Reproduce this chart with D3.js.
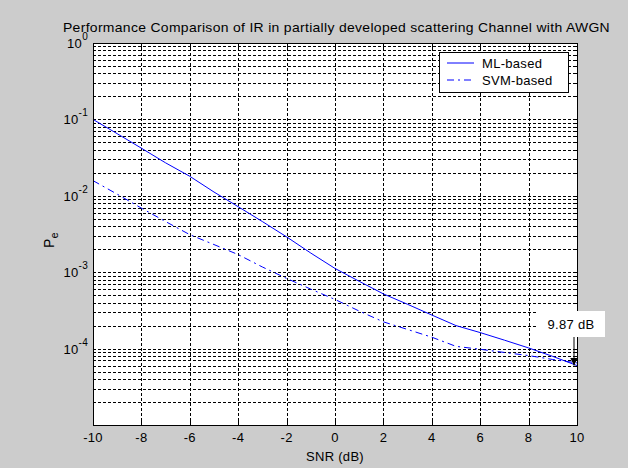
<!DOCTYPE html>
<html>
<head>
<meta charset="utf-8">
<script src="https://cdn.jsdelivr.net/npm/d3@7"></script>
<style>
  body { margin: 0; background: #cccccc; }
  text { font-family: "Liberation Sans", Arial, sans-serif; font-size: 13px; fill: #000; letter-spacing: 0.3px; }
</style>
</head>
<body>
<svg width="628" height="468"></svg>
<script>
const svg = d3.select('svg');
const width = +svg.attr('width');
const height = +svg.attr('height');

// data
const snr = [-10, -9, -8, -7, -6, -5, -4, -3, -2, -1, 0, 1, 2, 3, 4, 5, 6, 7, 8, 9, 10];
const mlBased = [1.0e-1, 6.5e-2, 4.2e-2, 2.7e-2, 1.8e-2, 1.12e-2, 7.2e-3, 4.6e-3, 2.9e-3, 1.78e-3,
    1.12e-3, 7.6e-4, 5.2e-4, 3.8e-4, 2.75e-4, 2.0e-4, 1.62e-4, 1.29e-4, 1.02e-4, 7.9e-5, 6.0e-5];
const svmBased = [1.58e-2, 1.05e-2, 6.9e-3, 4.6e-3, 3.1e-3, 2.3e-3, 1.7e-3, 1.17e-3, 8.3e-4, 6.0e-4,
    4.4e-4, 3.1e-4, 2.24e-4, 1.78e-4, 1.41e-4, 1.07e-4, 9.8e-5, 8.9e-5, 8.1e-5, 7.2e-5, 6.5e-5];
const xTicks = [-10, -8, -6, -4, -2, 0, 2, 4, 6, 8, 10];
const yDecades = [0, -1, -2, -3, -4];
const seriesNames = ['ML-based', 'SVM-based'];
const annotationText = '9.87 dB';

const margin = {left: 93, right: 51, top: 43, bottom: 43};
const innerW = width - margin.left - margin.right;
const innerH = height - margin.top - margin.bottom;

svg.append('rect').attr('width', width).attr('height', height).attr('fill', '#cccccc');

const xScale = d3.scaleLinear().domain([-10, 10]).range([0, innerW]);
const yScale = d3.scaleLog().domain([1e-5, 1]).range([innerH, 0]);

const g = svg.append('g').attr('transform', `translate(${margin.left},${margin.top})`);
g.append('rect').attr('width', innerW).attr('height', innerH).attr('fill', '#fff');

// grid lines (major + minor on log axis)
const yGrid = [];
for (let e = -5; e < 0; e++) for (let m = 1; m < 10; m++) yGrid.push(m * Math.pow(10, e));
yGrid.push(1);

g.selectAll('.ygrid').data(yGrid).enter().append('line')
    .attr('x1', 0).attr('x2', innerW)
    .attr('y1', d => Math.round(yScale(d)) + 0.5).attr('y2', d => Math.round(yScale(d)) + 0.5)
    .attr('stroke', '#000').attr('stroke-width', 1).attr('stroke-dasharray', '3,2');

g.selectAll('.xgrid').data(xTicks).enter().append('line')
    .attr('x1', d => Math.round(xScale(d)) + 0.5).attr('x2', d => Math.round(xScale(d)) + 0.5)
    .attr('y1', 0).attr('y2', innerH)
    .attr('stroke', '#000').attr('stroke-width', 1).attr('stroke-dasharray', '3,2');

// ticks inside the box
g.selectAll('.xtb').data(xTicks).enter().append('line')
    .attr('x1', d => Math.round(xScale(d)) + 0.5).attr('x2', d => Math.round(xScale(d)) + 0.5)
    .attr('y1', innerH).attr('y2', innerH - 5).attr('stroke', '#000');
g.selectAll('.xtt').data(xTicks).enter().append('line')
    .attr('x1', d => Math.round(xScale(d)) + 0.5).attr('x2', d => Math.round(xScale(d)) + 0.5)
    .attr('y1', 0).attr('y2', 5).attr('stroke', '#000');
g.selectAll('.ytl').data(yGrid).enter().append('line')
    .attr('x1', 0).attr('x2', 3)
    .attr('y1', d => Math.round(yScale(d)) + 0.5).attr('y2', d => Math.round(yScale(d)) + 0.5)
    .attr('stroke', '#000');
g.selectAll('.ytr').data(yGrid).enter().append('line')
    .attr('x1', innerW).attr('x2', innerW - 3)
    .attr('y1', d => Math.round(yScale(d)) + 0.5).attr('y2', d => Math.round(yScale(d)) + 0.5)
    .attr('stroke', '#000');

// series
const line = d3.line().x((d, i) => xScale(snr[i])).y(d => yScale(d));
g.append('path').datum(mlBased).attr('d', line)
    .attr('fill', 'none').attr('stroke', '#0000ff').attr('stroke-width', 1);
g.append('path').datum(svmBased).attr('d', line)
    .attr('fill', 'none').attr('stroke', '#0000ff').attr('stroke-width', 1)
    .attr('stroke-dasharray', '7,4,2,4');

// box
g.append('rect').attr('x', 0.5).attr('y', 0.5).attr('width', innerW).attr('height', innerH)
    .attr('fill', 'none').attr('stroke', '#000');

// x tick labels
g.selectAll('.xlab').data(xTicks).enter().append('text')
    .attr('x', d => xScale(d)).attr('y', innerH + 17)
    .attr('text-anchor', 'middle').text(d => d);

// y tick labels 10^k
const yl = g.selectAll('.ylab').data(yDecades).enter().append('text')
    .attr('x', -5).attr('y', d => yScale(Math.pow(10, d)) + 5)
    .attr('text-anchor', 'end');
yl.append('tspan').text('10');
yl.append('tspan').attr('dy', -8).style('font-size', '10px').text(d => d);

// axis titles
svg.append('text').attr('x', margin.left + innerW / 2).attr('y', height - 7)
    .attr('text-anchor', 'middle').text('SNR (dB)');
const yt = svg.append('text').attr('transform', 'translate(54,240) rotate(-90)')
    .attr('text-anchor', 'middle');
yt.append('tspan').style('font-size', '14px').text('P');
yt.append('tspan').attr('dy', 4).style('font-size', '11px').text('e');

svg.append('text').attr('x', 63).attr('y', 32)
    .attr('textLength', 547).attr('lengthAdjust', 'spacingAndGlyphs')
    .text('Performance Comparison of IR in partially developed scattering Channel with AWGN');

// legend
const lg = svg.append('g').attr('transform', 'translate(439,52)');
lg.append('rect').attr('x', 0.5).attr('y', 0.5).attr('width', 129).attr('height', 40)
    .attr('fill', '#fff').attr('stroke', '#000');
seriesNames.forEach((name, i) => {
    const yy = 11 + i * 17;
    lg.append('line').attr('x1', 8).attr('x2', 35).attr('y1', yy).attr('y2', yy)
        .attr('stroke', '#0000ff').attr('stroke-dasharray', i === 1 ? '7,4,2,4' : null);
    lg.append('text').attr('x', 43).attr('y', yy + 5).text(name);
});

// annotation with arrow
const tipX = margin.left + xScale(10) - 3;
const tipY = margin.top + yScale(mlBased[mlBased.length - 1]);
svg.append('defs').append('marker').attr('id', 'ah')
    .attr('viewBox', '0 0 10 10').attr('refX', 10).attr('refY', 5)
    .attr('markerWidth', 8).attr('markerHeight', 8).attr('markerUnits', 'userSpaceOnUse')
    .attr('orient', 'auto')
    .append('path').attr('d', 'M0,0L10,5L0,10Z').attr('fill', '#000');
svg.append('rect').attr('x', 538).attr('y', 311).attr('width', 67).attr('height', 26).attr('fill', '#fff');
svg.append('text').attr('x', 571).attr('y', 329).attr('text-anchor', 'middle').text(annotationText);
svg.append('line').attr('x1', tipX).attr('y1', 337)
    .attr('x2', tipX).attr('y2', tipY)
    .attr('stroke', '#000').attr('marker-end', 'url(#ah)');
</script>
</body>
</html>
